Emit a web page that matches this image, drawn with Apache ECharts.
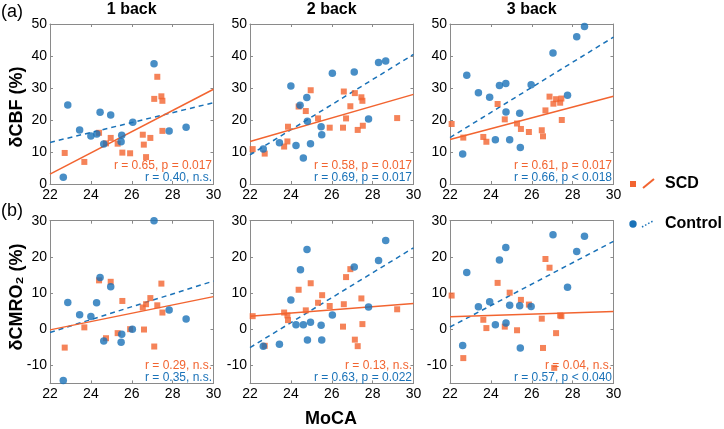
<!DOCTYPE html>
<html><head><meta charset="utf-8">
<script src="https://cdn.jsdelivr.net/npm/echarts@6/dist/echarts.min.js"></script>
<style>html,body{margin:0;padding:0;background:#fff}#c{width:724px;height:429px}</style>
</head><body><div id="c"></div>
<script>
// ---------- data ----------
const fitX = [22, 30];
const xTicks = [22, 24, 26, 28, 30];
const yTicksCBF = [0, 10, 20, 30, 40, 50];
const yTicksCMRO2 = [-10, 0, 10, 20, 30];
const colTitles = ['1 back', '2 back', '3 back'];
const rowTags = ['(a)', '(b)'];
const rowNames = ['δCBF (%)', 'δCMRO₂ (%)'];
const xName = 'MoCA';
const legendNames = ['SCD', 'Control'];

const cbf1Scd = [[22.72,9.7],[23.68,6.9],[24.4,16.0],[24.74,12.7],[24.97,14.4],[25.31,12.6],[25.54,9.8],[25.92,9.6],[26.54,15.4],[26.59,12.3],[26.7,8.4],[26.91,14.4],[27.1,26.6],[27.25,33.5],[27.45,27.4],[27.5,26.0],[27.5,16.6]];
const cbf1Ctrl = [[22.65,2.1],[22.87,24.7],[23.45,16.9],[24.0,15.0],[24.29,15.6],[24.45,22.4],[24.63,12.5],[24.97,21.6],[25.51,15.2],[25.48,13.2],[26.05,19.3],[27.09,37.6],[27.83,16.6],[28.66,17.7]];
const cbf1ScdFit = [3.1, 29.6];
const cbf1CtrlFit = [13.0, 25.4];

const cbf2Scd = [[22.13,10.9],[22.72,9.5],[23.67,11.7],[23.83,13.3],[23.86,17.9],[24.38,24.2],[24.73,22.8],[24.97,29.3],[25.33,20.5],[25.9,17.6],[26.55,17.6],[26.59,28.9],[26.7,20.5],[26.91,24.3],[27.13,28.4],[27.27,16.9],[27.45,27.1],[27.5,26.0],[27.52,18.2],[29.2,20.6]];
const cbf2Ctrl = [[22.65,10.9],[23.44,12.9],[24.0,30.6],[24.25,12.0],[24.45,24.6],[24.61,8.1],[24.78,27.0],[24.81,19.6],[24.96,12.6],[25.48,17.9],[25.51,15.4],[26.03,34.6],[27.1,35.0],[27.8,20.3],[28.29,38.0],[28.64,38.4]];
const cbf2ScdFit = [13.3, 28.0];
const cbf2CtrlFit = [9.1, 40.5];

const cbf3Scd = [[22.08,18.75],[22.65,14.5],[23.63,14.7],[23.78,13.2],[24.33,25.0],[24.68,20.2],[25.28,18.9],[25.47,17.2],[25.86,16.25],[26.49,16.8],[26.55,14.9],[26.67,23.0],[26.87,27.3],[27.06,25.1],[27.19,26.5],[27.39,25.4],[27.45,26.7],[27.47,20.0]];
const cbf3Ctrl = [[22.62,9.4],[22.82,34.0],[23.39,28.5],[23.94,27.1],[24.22,13.8],[24.42,30.8],[24.73,31.4],[24.74,22.5],[24.92,13.8],[25.41,22.1],[25.44,11.4],[25.97,31.0],[27.04,40.9],[27.75,27.7],[28.2,46.0],[28.58,49.2]];
const cbf3ScdFit = [13.9, 27.4];
const cbf3CtrlFit = [14.5, 45.9];

const cmro1Scd = [[22.72,-5.1],[23.68,0.5],[24.4,13.5],[24.74,-2.5],[24.97,13.1],[25.31,-1.1],[25.54,7.8],[25.92,0.0],[26.54,6.0],[26.6,-0.1],[26.7,6.9],[26.91,8.6],[27.1,-4.8],[27.25,6.6],[27.45,12.6],[27.5,4.6]];
const cmro1Ctrl = [[22.65,-14.2],[22.87,7.4],[23.45,4.0],[24.0,3.5],[24.28,7.3],[24.45,14.3],[24.63,-3.3],[24.97,11.7],[25.51,-1.4],[25.48,-3.6],[26.03,0.0],[27.09,30.0],[27.83,5.3],[28.66,2.8]];
const cmro1ScdFit = [-0.2, 9.0];
const cmro1CtrlFit = [-0.9, 13.3];

const cmro2Scd = [[22.13,3.6],[22.72,-4.6],[23.67,4.6],[23.83,3.8],[23.86,2.5],[24.38,10.9],[24.73,5.2],[24.97,12.7],[25.33,7.3],[25.53,9.4],[25.9,6.4],[26.55,0.7],[26.59,6.9],[26.7,14.4],[26.91,16.6],[27.13,-2.9],[27.27,-4.7],[27.45,8.5],[27.5,1.4],[29.2,5.5]];
const cmro2Ctrl = [[22.65,-4.7],[23.44,-4.2],[24.0,8.1],[24.25,1.2],[24.47,16.4],[24.61,1.2],[24.79,22.0],[24.81,-3.0],[24.96,1.9],[25.48,1.1],[25.51,-3.0],[26.03,3.9],[27.1,17.2],[27.8,6.1],[28.29,19.0],[28.64,24.5]];
const cmro2ScdFit = [3.6, 7.1];
const cmro2CtrlFit = [-5.1, 22.5];

const cmro3Scd = [[22.08,9.3],[22.65,-8.0],[23.63,2.6],[23.78,0.3],[24.33,12.8],[24.68,0.7],[24.92,10.1],[25.28,-0.3],[25.47,8.1],[25.86,6.8],[26.49,2.9],[26.55,-5.2],[26.67,19.4],[26.87,17.0],[27.1,-10.7],[27.19,-1.1],[27.39,3.8],[27.45,3.6]];
const cmro3Ctrl = [[22.62,-4.55],[22.82,15.7],[23.39,6.2],[23.94,7.6],[24.22,1.2],[24.42,19.1],[24.73,22.6],[24.74,1.7],[24.92,6.6],[25.41,6.5],[25.44,-5.2],[25.97,6.3],[27.04,26.1],[27.75,11.6],[28.2,21.5],[28.58,25.7]];
const cmro3ScdFit = [3.4, 4.9];
const cmro3CtrlFit = [0.6, 24.3];

const statsScd = ['r = 0.65, p = 0.017', 'r = 0.58, p = 0.017', 'r = 0.61, p = 0.017', 'r = 0.29, n.s.', 'r = 0.13, n.s.', 'r = 0.04, n.s.'];
const statsCtrl = ['r = 0.40, n.s.', 'r = 0.69, p = 0.017', 'r = 0.66, p < 0.018', 'r = 0.35, n.s.', 'r = 0.63, p = 0.022', 'r = 0.57, p < 0.040'];

// ---------- layout / style ----------
const ORANGE = '#f26430';
const BLUE = '#1a72b8';
const AXC = '#8a8a8a';
const FONT = 'Liberation Sans, Arial, Helvetica, sans-serif';
const colLeft = [50, 250, 450];
const W = 163.5;
const rowTop = [24, 220.7];
const rowH = [160, 162.7];
const yRange = [[0, 50], [-15, 30]];
const yTicks = [yTicksCBF, yTicksCMRO2];

const scdSets = [cbf1Scd, cbf2Scd, cbf3Scd, cmro1Scd, cmro2Scd, cmro3Scd];
const ctrlSets = [cbf1Ctrl, cbf2Ctrl, cbf3Ctrl, cmro1Ctrl, cmro2Ctrl, cmro3Ctrl];
const scdFits = [cbf1ScdFit, cbf2ScdFit, cbf3ScdFit, cmro1ScdFit, cmro2ScdFit, cmro3ScdFit];
const ctrlFits = [cbf1CtrlFit, cbf2CtrlFit, cbf3CtrlFit, cmro1CtrlFit, cmro2CtrlFit, cmro3CtrlFit];

const grid = [], xAxis = [], yAxis = [], series = [], graphic = [];
for (let i = 0; i < 6; i++) {
  const r = Math.floor(i / 3), c = i % 3;
  grid.push({left: colLeft[c], top: rowTop[r], width: W, height: rowH[r], containLabel: false});
  const tickStyle = {show: true, inside: true, length: 3, lineStyle: {color: AXC, width: 1}};
  xAxis.push({type: 'value', gridIndex: i, min: 22, max: 30, position: 'bottom',
    axisLine: {show: true, onZero: false, lineStyle: {color: AXC, width: 1}},
    axisTick: Object.assign({customValues: xTicks}, tickStyle),
    axisLabel: {customValues: xTicks, color: '#000', fontSize: 14, fontFamily: FONT, margin: 4},
    splitLine: {show: false}});
  xAxis.push({type: 'value', gridIndex: i, min: 22, max: 30, position: 'top',
    axisLine: {show: true, onZero: false, lineStyle: {color: AXC, width: 1}},
    axisTick: Object.assign({customValues: xTicks}, tickStyle),
    axisLabel: {show: false}, splitLine: {show: false}});
  yAxis.push({type: 'value', gridIndex: i, min: yRange[r][0], max: yRange[r][1], position: 'left',
    axisLine: {show: true, onZero: false, lineStyle: {color: AXC, width: 1}},
    axisTick: Object.assign({customValues: yTicks[r]}, tickStyle),
    axisLabel: {customValues: yTicks[r], color: '#000', fontSize: 14, fontFamily: FONT, margin: 3},
    splitLine: {show: false}});
  yAxis.push({type: 'value', gridIndex: i, min: yRange[r][0], max: yRange[r][1], position: 'right',
    axisLine: {show: true, onZero: false, lineStyle: {color: AXC, width: 1}},
    axisTick: Object.assign({customValues: yTicks[r]}, tickStyle),
    axisLabel: {show: false}, splitLine: {show: false}});

  const xi = i * 2, yi = i * 2;
  series.push({type: 'line', xAxisIndex: xi, yAxisIndex: yi, silent: true, symbol: 'none', z: 3,
    data: fitX.map((x, k) => [x, ctrlFits[i][k]]),
    lineStyle: {color: BLUE, width: 1.5, type: [5, 4]}});
  series.push({type: 'line', xAxisIndex: xi, yAxisIndex: yi, silent: true, symbol: 'none', z: 3,
    data: fitX.map((x, k) => [x, scdFits[i][k]]),
    lineStyle: {color: ORANGE, width: 1.5}});
  series.push({type: 'scatter', xAxisIndex: xi, yAxisIndex: yi, silent: true, symbol: 'rect', symbolSize: 6, z: 4,
    data: scdSets[i], itemStyle: {color: ORANGE}});
  series.push({type: 'scatter', xAxisIndex: xi, yAxisIndex: yi, silent: true, symbol: 'circle', symbolSize: 7.5, z: 5,
    data: ctrlSets[i], itemStyle: {color: BLUE}});

  const right = colLeft[c] + W - 1.5;
  const base = rowTop[r] + rowH[r];
  graphic.push({type: 'text', z: 1, style: {text: statsScd[i], x: right, y: base - 18, align: 'right', verticalAlign: 'middle',
    fill: ORANGE, font: '12px ' + FONT}});
  graphic.push({type: 'text', z: 1, style: {text: statsCtrl[i], x: right, y: base - 6, align: 'right', verticalAlign: 'middle',
    fill: BLUE, font: '12px ' + FONT}});
}
for (let c = 0; c < 3; c++) {
  graphic.push({type: 'text', style: {text: colTitles[c], x: colLeft[c] + W / 2, y: 9.5, align: 'center', verticalAlign: 'middle',
    fill: '#000', font: 'bold 16px ' + FONT}});
}
const tagY = [12, 211];
const nameY = [107, 297];
for (let r = 0; r < 2; r++) {
  graphic.push({type: 'text', style: {text: rowTags[r], x: 1, y: tagY[r], align: 'left', verticalAlign: 'middle',
    fill: '#000', font: '18px ' + FONT}});
  graphic.push({type: 'text', x: 17, y: nameY[r], rotation: Math.PI / 2, style: {text: rowNames[r], x: 0, y: 0,
    align: 'center', verticalAlign: 'middle', fill: '#000', font: 'bold 18px ' + FONT}});
}
graphic.push({type: 'text', style: {text: xName, x: 331, y: 419, align: 'center', verticalAlign: 'middle',
  fill: '#000', font: 'bold 18px ' + FONT}});
// legend
graphic.push({type: 'rect', shape: {x: 630, y: 181, width: 6, height: 6}, style: {fill: ORANGE}});
graphic.push({type: 'line', shape: {x1: 643, y1: 188, x2: 654, y2: 179}, style: {stroke: ORANGE, lineWidth: 2}});
graphic.push({type: 'text', style: {text: legendNames[0], x: 665, y: 184, align: 'left', verticalAlign: 'middle',
  fill: '#000', font: 'bold 16px ' + FONT}});
graphic.push({type: 'circle', shape: {cx: 633, cy: 224, r: 3.7}, style: {fill: BLUE}});
graphic.push({type: 'line', shape: {x1: 642, y1: 227, x2: 653, y2: 221}, style: {stroke: BLUE, lineWidth: 1.5, lineDash: [1.5, 2]}});
graphic.push({type: 'text', style: {text: legendNames[1], x: 665, y: 224, align: 'left', verticalAlign: 'middle',
  fill: '#000', font: 'bold 16px ' + FONT}});

const chart = echarts.init(document.getElementById('c'), null, {renderer: 'canvas'});
chart.setOption({animation: false, backgroundColor: '#fff', grid, xAxis, yAxis, series, graphic});
</script></body></html>
